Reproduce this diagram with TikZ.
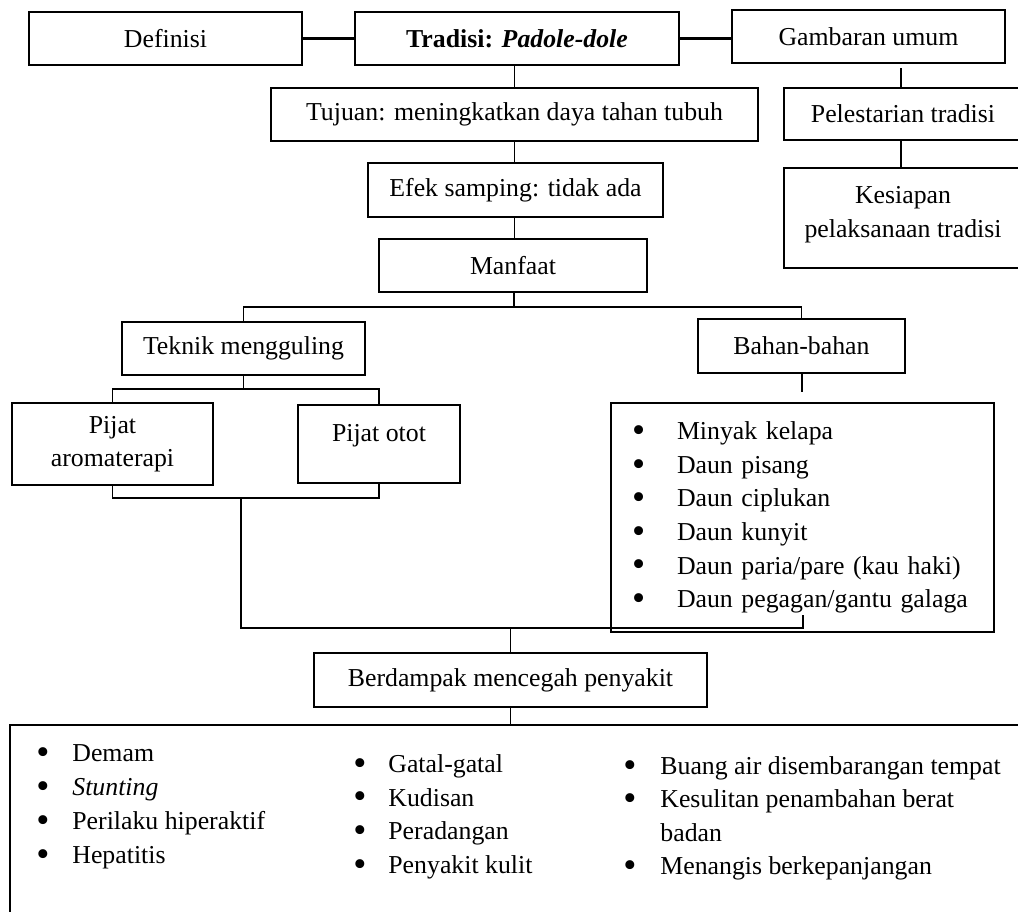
\documentclass[tikz,border=0pt]{standalone}
\usepackage{fontspec}
\usepackage{graphicx}
\setmainfont{Liberation Serif}
\newcommand\bul{\smash{\raisebox{-0.11em}{\scalebox{1.45}{\textbullet}}}}
\begin{document}
\begin{tikzpicture}[x=0.5pt,y=-0.5pt,
  font=\fontsize{12.9}{16.6}\selectfont,
  box/.style={draw, line width=0.9pt, inner sep=0pt, align=center},
  conn/.style={line width=0.9pt},
  boldconn/.style={line width=1.6pt},
  itemlist/.style={anchor=north west, inner sep=0pt, align=left}]
\useasboundingbox (0,0) rectangle (1018,911);

% top row
\node[box, minimum width=136.5pt, minimum height=26.5pt] (def) at (165.5,38.5) {Definisi};
\node[box, minimum width=162pt, minimum height=26.5pt] (trad) at (517,38.5) {\textbf{Tradisi: \textit{Padole-dole}}};
\node[box, minimum width=136.5pt, minimum height=26.5pt] (gamb) at (868.5,36.5) {Gambaran umum};

% middle column
\node[box, minimum width=243.5pt, minimum height=26.5pt] (tuj) at (514.5,114.5) {Tujuan: meningkatkan daya tahan tubuh};
\node[box, minimum width=147.5pt, minimum height=27pt] (efek) at (515.5,190) {Efek samping: tidak ada};
\node[box, minimum width=134pt, minimum height=26.5pt] (manf) at (513,265.5) {Manfaat};

% right column
\node[box, minimum width=119pt, minimum height=26pt] (pel) at (903,114) {Pelestarian tradisi};
\node[box, minimum width=119pt, minimum height=50pt, text depth=6pt] (kes) at (903,218) {Kesiapan\\pelaksanaan tradisi};

% branches
\node[box, minimum width=121.5pt, minimum height=26.5pt] (tek) at (243.5,348.5) {Teknik mengguling};
\node[box, minimum width=103.5pt, minimum height=27pt] (bah) at (801.5,346) {Bahan-bahan};
\node[box, minimum width=100.5pt, minimum height=41pt] (aroma) at (112.5,444) {Pijat\\aromaterapi};
\node[box, minimum width=81pt, minimum height=39pt, text height=9pt, text depth=12pt] (otot) at (379,444) {Pijat otot};
\node[box, minimum width=191.5pt, minimum height=114.5pt, text width=170.5pt, align=left,
      font=\fontsize{12.9}{16.8}\selectfont] (list) at (802.5,517.5)
  {\makebox[22.5pt][l]{\bul}Minyak kelapa\\
   \makebox[22.5pt][l]{\bul}Daun pisang\\
   \makebox[22.5pt][l]{\bul}Daun ciplukan\\
   \makebox[22.5pt][l]{\bul}Daun kunyit\\
   \makebox[22.5pt][l]{\bul}Daun paria/pare (kau haki)\\
   \makebox[22.5pt][l]{\bul}Daun pegagan/gantu galaga};

% bottom
\node[box, minimum width=196.5pt, minimum height=27pt] (damp) at (510.5,680) {Berdampak mencegah penyakit};
\node[box, minimum width=510pt, minimum height=100pt] (bottom) at (520,825) {};

\node[itemlist, font=\fontsize{12.9}{17}\selectfont] (col1) at (36,744)
  {\makebox[18pt][l]{\bul}Demam\\
   \makebox[18pt][l]{\bul}\textit{Stunting}\\
   \makebox[18pt][l]{\bul}Perilaku hiperaktif\\
   \makebox[18pt][l]{\bul}Hepatitis};
\node[itemlist, font=\fontsize{12.9}{16.85}\selectfont] (col2) at (353,754)
  {\makebox[17.5pt][l]{\bul}Gatal-gatal\\
   \makebox[17.5pt][l]{\bul}Kudisan\\
   \makebox[17.5pt][l]{\bul}Peradangan\\
   \makebox[17.5pt][l]{\bul}Penyakit kulit};
\node[itemlist, font=\fontsize{12.9}{16.7}\selectfont] (col3) at (623,756)
  {\makebox[18.5pt][l]{\bul}Buang air disembarangan tempat\\
   \makebox[18.5pt][l]{\bul}Kesulitan penambahan berat\\
   \makebox[18.5pt][l]{}badan\\
   \makebox[18.5pt][l]{\bul}Menangis berkepanjangan};

% connectors
\draw[boldconn] (def.east) -- (trad.west);
\draw[boldconn] (trad.east) -- (trad.east -| gamb.west);
\draw[conn] (tuj.north |- trad.south) -- (tuj.north);
\coordinate (gtick) at (901,68);
\draw[conn] (gtick) -- (gtick |- pel.north);
\draw[conn] (pel.south -| gtick) -- (kes.north -| gtick);
\draw[conn] (tuj.south) -- (tuj.south |- efek.north);
\draw[conn] (efek.south -| tuj.south) -- (manf.north -| tuj.south);
\coordinate (br) at (514,307);
\draw[conn] (manf.south -| br) -- (br);
\draw[conn] (tek.north) |- (br) -| (bah.north);
\coordinate (sb) at (243.5,389);
\draw[conn] (tek.south) -- (sb);
\draw[conn] (aroma.north) |- (sb) -| (otot.north);
\coordinate (bt) at (802,392);
\draw[conn] (bah.south -| bt) -- (bt);
\coordinate (m1) at (241,498);
\draw[conn] (aroma.south) |- (m1) -| (otot.south);
\coordinate (m2) at (241,628);
\coordinate (lt) at (803,615);
\draw[conn] (m1) -- (m2) -| (lt);
\draw[conn] (damp.north |- m2) -- (damp.north);
\draw[conn] (damp.south) -- (bottom.north -| damp.south);
\end{tikzpicture}
\end{document}
